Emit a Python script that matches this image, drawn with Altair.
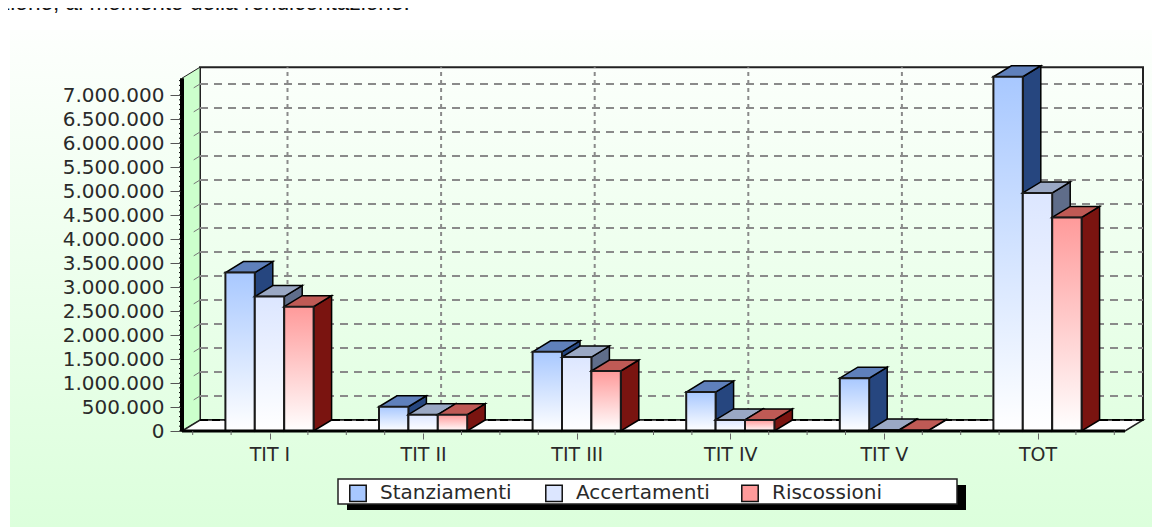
import altair as alt
import pandas as pd

categories = ["TIT I", "TIT II", "TIT III", "TIT IV", "TIT V", "TOT"]
series = ["Stanziamenti", "Accertamenti", "Riscossioni"]
stanziamenti = [3300000, 505000, 1650000, 810000, 1100000, 7380000]
accertamenti = [2800000, 340000, 1540000, 230000, 20000, 4960000]
riscossioni = [2590000, 340000, 1250000, 230000, 10000, 4450000]
values = [stanziamenti, accertamenti, riscossioni]
swatches = ["#a8c8ff", "#dce6ff", "#ff9a9a"]
top_colors = ["#5f80bb", "#9aa8c4", "#bf5a55"]
side_colors = ["#26467f", "#5f6d8a", "#7a1410"]
y_ticks = list(range(0, 7000001, 500000))
intro = "zione, al momento della rendicontazione."

W, H = 1144, 519
PX_CAT = 153.6
X0 = 261.5   # px of the first category centre
Y0 = 423.0   # px of value zero
PX_PER_UNIT = 48 / 1e6
def U(px): return (px - X0) / PX_CAT
def V(py): return (Y0 - py) / PX_PER_UNIT
xs = alt.Scale(domain=[U(0), U(W)], range=[0, W], nice=False, zero=False)
ys = alt.Scale(domain=[V(H), V(0)], range=[H, 0], nice=False, zero=False)
DU, DV = 18 / PX_CAT, 11 / PX_PER_UNIT
BAR = 29.4 / PX_CAT
AX_L, AX_R = U(174), U(1117)
TOP = 7350000

x_axis = alt.Axis(
    values=list(range(6)), labelExpr="%s[datum.value]" % categories, orient="bottom", offset=-(H - Y0) + 2,
    domain=False, grid=False, tickSize=6, tickColor="#666666", labelFontSize=19, labelFont="DejaVu Sans",
    labelColor="#2a2a2a", labelPadding=6, labelFlush=False, labelOverlap=False, zindex=1, title=None)
y_axis = alt.Axis(
    values=y_ticks, labelExpr="replace(format(datum.value, ','), /,/g, '.')", orient="left", offset=-172,
    domain=False, grid=False, tickSize=10, tickColor="#555555", labelFontSize=20, labelFont="DejaVu Sans",
    labelColor="#2a2a2a", labelPadding=6, labelOverlap=False, zindex=1, title=None)

def X(f): return alt.X(f, type="quantitative", scale=xs, axis=x_axis)
def Y(f): return alt.Y(f, type="quantitative", scale=ys, axis=y_axis)
def grad(c0, c1):
    return alt.LinearGradient(gradient="linear", x1=0, x2=0, y1=0, y2=1,
                        stops=[alt.GradientStop(color=c0, offset=0), alt.GradientStop(color=c1, offset=1)])
def rect(df, **mk):
    return alt.Chart(pd.DataFrame(df)).mark_rect(**mk).encode(x=X("a"), x2=alt.X2("b"), y=Y("c"), y2=alt.Y2("d"))
def rule(df, **mk):
    return alt.Chart(pd.DataFrame(df)).mark_rule(**mk).encode(x=X("a"), x2=alt.X2("b"), y=Y("c"), y2=alt.Y2("d"))
def area(df, **mk):
    return alt.Chart(pd.DataFrame(df)).mark_area(**mk).encode(
        x=X("a"), y=Y("c"), y2=alt.Y2("d"), detail="k:N")

layers = []
# panel background
layers.append(rect([dict(a=U(2), b=U(1152), c=V(22), d=V(519))], fill=grad("#fdfffd", "#dcffdc")))
# back wall
layers.append(rect([dict(a=AX_L + DU, b=AX_R + DU, c=TOP + DV, d=DV)],
                   fill=grad("#fbfffb", "#e2ffe2"), stroke="#222222", strokeWidth=2))
# left wall
layers.append(area([dict(k=0, a=AX_L, c=TOP, d=0), dict(k=0, a=AX_L + DU, c=TOP + DV, d=DV)], color="#ccffcc", stroke="#222222", strokeWidth=1))
# gridlines
layers.append(rule([dict(a=AX_L + DU, b=AX_R + DU, c=v + DV, d=v + DV) for v in y_ticks[1:]],
                   color="#8a8a8a", strokeWidth=2, strokeDash=[8, 6]))
layers.append(rule([dict(a=i + DU, b=i + DU, c=DV, d=TOP + DV) for i in range(5)],
                   color="#8a8a8a", strokeWidth=2, strokeDash=[4, 4]))
layers.append(rule([dict(a=AX_L + DU * 0.65, b=AX_L + DU, c=v + DV * 0.65, d=v + DV) for v in y_ticks[1:]],
                   color="#777777", strokeWidth=1))
# floor
layers.append(area([dict(k=0, a=AX_L, c=0, d=0), dict(k=0, a=AX_L + DU, c=DV, d=0),
                    dict(k=0, a=AX_R, c=DV, d=0), dict(k=0, a=AX_R + DU, c=DV, d=DV)],
                   color="#ffffff", stroke="#222222", strokeWidth=1.5))
layers.append(rule([dict(a=AX_L + DU, b=AX_R + DU, c=DV, d=DV)], color="#000000", strokeWidth=2, strokeDash=[8, 4]))

# bars
offs = [-1.5 * BAR, -0.5 * BAR, 0.5 * BAR]
for s, vals in enumerate(values):
    side, top, front = [], [], []
    for i, v in enumerate(vals):
        l = i + offs[s]
        r = l + BAR
        side += [dict(k=i, a=r, c=v, d=0), dict(k=i, a=r + DU, c=v + DV, d=DV)]
        top += [dict(k=i, a=l, c=v, d=v), dict(k=i, a=l + DU, c=v + DV, d=v),
                dict(k=i, a=r, c=v + DV, d=v), dict(k=i, a=r + DU, c=v + DV, d=v + DV)]
        front.append(dict(a=l, b=r, c=v, d=0))
    layers.append(area(side, color=side_colors[s], stroke="#000000", strokeWidth=1.5))
    layers.append(area(top, color=top_colors[s], stroke="#000000", strokeWidth=1.5))
    layers.append(rect(front, fill=grad(swatches[s], "#ffffff"), stroke="#1a1a1a", strokeWidth=2))

# front axis lines and minor ticks
layers.append(rule([dict(a=AX_L, b=AX_L, c=0, d=TOP)], color="#000000", strokeWidth=4))
layers.append(rule([dict(a=AX_L, b=AX_R, c=0, d=0)], color="#000000", strokeWidth=3))
layers.append(rule([dict(a=AX_L - 3 / PX_CAT, b=AX_L, c=v, d=v) for v in range(0, 7300001, 100000)],
                   color="#000000", strokeWidth=1))
layers.append(rule([dict(a=i / 4 - 0.5, b=i / 4 - 0.5, c=0, d=-4 / PX_PER_UNIT) for i in range(25) if (i + 2) % 4],
                   color="#666666", strokeWidth=1))

# legend box, shadow and legend
layers.append(rect([dict(a=U(339), b=U(958), c=V(477), d=V(502))], fill="#000000"))
layers.append(rect([dict(a=U(330), b=U(949), c=V(471), d=V(496))], fill="#ffffff", stroke="#222222", strokeWidth=1.5))
legend_layer = alt.Chart(pd.DataFrame(dict(u=[0.0] * 3, v=[0.0] * 3, s=series))).mark_point(filled=True, size=0).encode(
    x=X("u"), y=Y("v"),
    color=alt.Color("s:N", scale=alt.Scale(domain=series, range=swatches), sort=series, title=None,
                    legend=alt.Legend(orient="none", legendX=340, legendY=475, direction="horizontal",
                                      columns=3, gridAlign="all", padding=0,
                                      symbolType="square", symbolSize=270, symbolStrokeColor="#111111",
                                      symbolStrokeWidth=1.5, symbolOpacity=1, labelFontSize=20,
                                      labelFont="DejaVu Sans", labelColor="#2a2a2a", columnPadding=28,
                                      labelOffset=12)))
layers.append(legend_layer)

# the line of page text cut by the top of the picture
layers.append(alt.Chart(pd.DataFrame(dict(u=[U(-9)], v=[V(2)], t=[intro]))).mark_text(
    align="left", baseline="alphabetic", font="Liberation Sans", fontSize=22.6, color="#111111"
).encode(x=X("u"), y=Y("v"), text="t:N"))

chart = alt.layer(*layers).properties(width=W, height=H, padding=0, autosize=alt.AutoSizeParams(type="none"),
                                      background="#ffffff").configure_view(stroke=None)
chart.save("out.html", embed_options={"renderer": "svg", "actions": False})
